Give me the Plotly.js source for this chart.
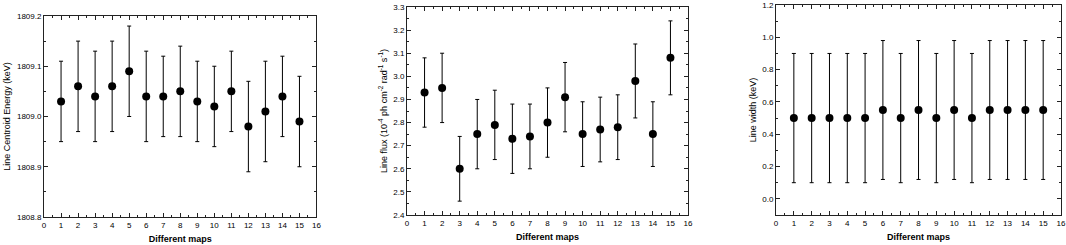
<!DOCTYPE html>
<html>
<head>
<meta charset="utf-8">
<script src="https://cdn.plot.ly/plotly-3.0.1.min.js"></script>
<style>html,body{margin:0;padding:0;background:#fff;}#chart{width:1066px;height:245px;}</style>
</head>
<body>
<div id="chart"></div>
<script>
const maps = [1,2,3,4,5,6,7,8,9,10,11,12,13,14,15];
const xTickLabels = ['0','1','2','3','4','5','6','7','8','9','10','11','12','13','14','15','16'];

const energy      = [1809.03,1809.06,1809.04,1809.06,1809.09,1809.04,1809.04,1809.05,1809.03,1809.02,1809.05,1808.98,1809.01,1809.04,1808.99];
const energyLow   = [1808.95,1808.97,1808.95,1808.97,1809.00,1808.95,1808.96,1808.96,1808.95,1808.94,1808.97,1808.89,1808.91,1808.96,1808.90];
const energyHigh  = [1809.11,1809.15,1809.13,1809.15,1809.18,1809.13,1809.12,1809.14,1809.11,1809.10,1809.13,1809.07,1809.11,1809.12,1809.08];

const flux        = [2.93,2.95,2.60,2.75,2.79,2.73,2.74,2.80,2.91,2.75,2.77,2.78,2.98,2.75,3.08];
const fluxLow     = [2.78,2.80,2.46,2.60,2.64,2.58,2.60,2.65,2.76,2.61,2.63,2.64,2.82,2.61,2.92];
const fluxHigh    = [3.08,3.10,2.74,2.90,2.94,2.88,2.88,2.95,3.06,2.89,2.91,2.92,3.14,2.89,3.24];

const width       = [0.50,0.50,0.50,0.50,0.50,0.55,0.50,0.55,0.50,0.55,0.50,0.55,0.55,0.55,0.55];
const widthLow    = [0.10,0.10,0.10,0.10,0.10,0.12,0.10,0.12,0.10,0.12,0.10,0.12,0.12,0.12,0.12];
const widthHigh   = [0.90,0.90,0.90,0.90,0.90,0.98,0.90,0.98,0.90,0.98,0.90,0.98,0.98,0.98,0.98];

function trace(y, lo, hi, xa, ya) {
  return {
    x: maps, y: y, xaxis: xa, yaxis: ya,
    type: 'scatter', mode: 'markers',
    marker: {color: '#000', size: 8},
    error_y: {
      type: 'data', symmetric: false,
      array: hi.map((v, i) => v - y[i]),
      arrayminus: y.map((v, i) => v - lo[i]),
      color: '#000', thickness: 1, width: 2
    },
    showlegend: false, hoverinfo: 'x+y'
  };
}

const FONT = 'Liberation Sans, Arial, sans-serif';
function xAxis(domain, anchor) {
  return {
    domain: domain, anchor: anchor, range: [0, 16],
    tickmode: 'array', tickvals: xTickLabels.map(Number), ticktext: xTickLabels,
    ticks: 'inside', ticklen: 4, tickwidth: 1, tickcolor: '#222',
    minor: {ticks: 'inside', dtick: 0.5, tick0: 0, ticklen: 2, tickwidth: 1, tickcolor: '#222'},
    showline: true, linecolor: '#222', linewidth: 1, mirror: 'ticks',
    showgrid: false, zeroline: false,
    tickfont: {family: FONT, size: 8, color: '#000'},
    title: {text: '<b>Different maps</b>', font: {family: FONT, size: 9, color: '#000'}, standoff: 7}
  };
}
function yAxis(domain, anchor, range, dtick, minor, title) {
  return {
    domain: domain, anchor: anchor, range: range,
    tick0: 0, dtick: dtick, tickformat: '.1f',
    ticks: 'inside', ticklen: 4, tickwidth: 1, tickcolor: '#222',
    minor: {ticks: 'inside', dtick: minor, ticklen: 2, tickwidth: 1, tickcolor: '#222'},
    showline: true, linecolor: '#222', linewidth: 1, mirror: 'ticks',
    showgrid: false, zeroline: false,
    tickfont: {family: FONT, size: 8, color: '#000'},
    title: {text: title, font: {family: FONT, size: 9, color: '#000'}, standoff: 4}
  };
}

const data = [
  trace(energy, energyLow, energyHigh, 'x', 'y'),
  trace(flux, fluxLow, fluxHigh, 'x2', 'y2'),
  trace(width, widthLow, widthHigh, 'x3', 'y3')
];

const layout = {
  width: 1066, height: 245,
  margin: {l: 0, r: 0, t: 0, b: 0},
  paper_bgcolor: '#fff', plot_bgcolor: '#fff',
  font: {family: FONT, color: '#000'},
  xaxis:  xAxis([0.0413, 0.2969], 'y'),
  yaxis:  yAxis([0.1143, 0.9347], 'x', [1808.8, 1809.2], 0.1, 0.05, 'Line Centroid Energy (keV)'),
  xaxis2: xAxis([0.3818, 0.6454], 'y2'),
  yaxis2: yAxis([0.1224, 0.9714], 'x2', [2.4, 3.3], 0.1, 0.05, 'Line flux (10<sup>-4</sup> ph cm<sup>-2</sup> rad<sup>-1</sup> s<sup>-1</sup>)'),
  xaxis3: xAxis([0.7280, 0.9953], 'y3'),
  yaxis3: yAxis([0.1224, 0.9796], 'x3', [-0.1, 1.2], 0.2, 0.1, 'Line width (keV)')
};

Plotly.newPlot('chart', data, layout, {displayModeBar: false, staticPlot: true});
</script>
</body>
</html>
